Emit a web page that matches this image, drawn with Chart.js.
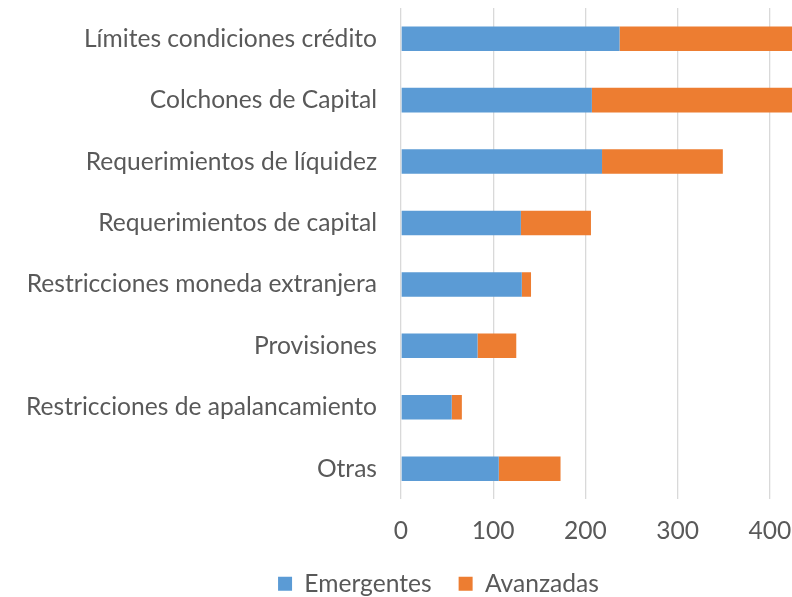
<!DOCTYPE html>
<html>
<head>
<meta charset="utf-8">
<script src="https://cdn.jsdelivr.net/npm/chart.js@4/dist/chart.umd.min.js"></script>
<style>
  html, body { margin: 0; padding: 0; background: #ffffff; }
  #wrap { width: 792px; height: 597px; }
</style>
</head>
<body>
<div id="wrap"><canvas id="c" width="792" height="597"></canvas></div>
<script>
const categories = [
  "Límites condiciones crédito",
  "Colchones de Capital",
  "Requerimientos de líquidez",
  "Requerimientos de capital",
  "Restricciones moneda extranjera",
  "Provisiones",
  "Restricciones de apalancamiento",
  "Otras"
];
const emergentes = [237, 207, 218, 130, 131, 83, 55, 106];
const avanzadas  = [230, 250, 131, 76, 10, 42, 11, 67];
const xTicks = [0, 100, 200, 300, 400];
const seriesNames = ["Emergentes", "Avanzadas"];

const FAMILY = "Lato";
function fitSize(text, target) {
  const ctx = document.createElement('canvas').getContext('2d');
  ctx.font = '100px ' + FAMILY;
  return Math.round(100 * target / ctx.measureText(text).width * 10) / 10;
}
const FS = fitSize("Límites condiciones crédito", 293);
const TEXT = '#595959';

const legendShift = {
  id: 'legendShift',
  afterLayout(chart) { if (chart.legend) { chart.legend.left = 85; } }
};

new Chart(document.getElementById('c'), {
  type: 'bar',
  data: {
    labels: categories,
    datasets: [
      { label: seriesNames[0], data: emergentes, backgroundColor: '#5B9BD5', borderWidth: 0 },
      { label: seriesNames[1], data: avanzadas, backgroundColor: '#ED7D31', borderWidth: 0 }
    ]
  },
  plugins: [legendShift],
  options: {
    indexAxis: 'y',
    responsive: false,
    animation: false,
    devicePixelRatio: 1,
    layout: { padding: { top: 8, left: 0, right: 0, bottom: -9 } },
    datasets: { bar: { categoryPercentage: 1.0, barPercentage: 0.4 } },
    scales: {
      x: {
        stacked: true,
        min: 0,
        max: 424,
        afterBuildTicks: (axis) => { axis.ticks = xTicks.map(v => ({ value: v })); },
        grid: { color: '#d9d9d9', lineWidth: 1.3, drawTicks: false },
        border: { display: false },
        ticks: { color: TEXT, font: { family: FAMILY, size: FS }, padding: 17, maxRotation: 0 },
        afterFit: (scale) => { scale.height = 45; scale.paddingLeft = 0; scale.paddingRight = 0; }
      },
      y: {
        stacked: true,
        grid: { display: false, drawTicks: false },
        border: { display: false },
        ticks: { color: TEXT, font: { family: FAMILY, size: FS }, padding: 24, autoSkip: false },
        afterFit: (scale) => { scale.width = 401; scale.paddingTop = 0; scale.paddingBottom = 0; }
      }
    },
    plugins: {
      legend: {
        position: 'bottom',
        labels: {
          color: TEXT,
          font: { family: FAMILY, size: FS },
          boxWidth: 14,
          boxHeight: 14,
          padding: 27
        }
      },
      tooltip: { enabled: false }
    }
  }
});
</script>
</body>
</html>
